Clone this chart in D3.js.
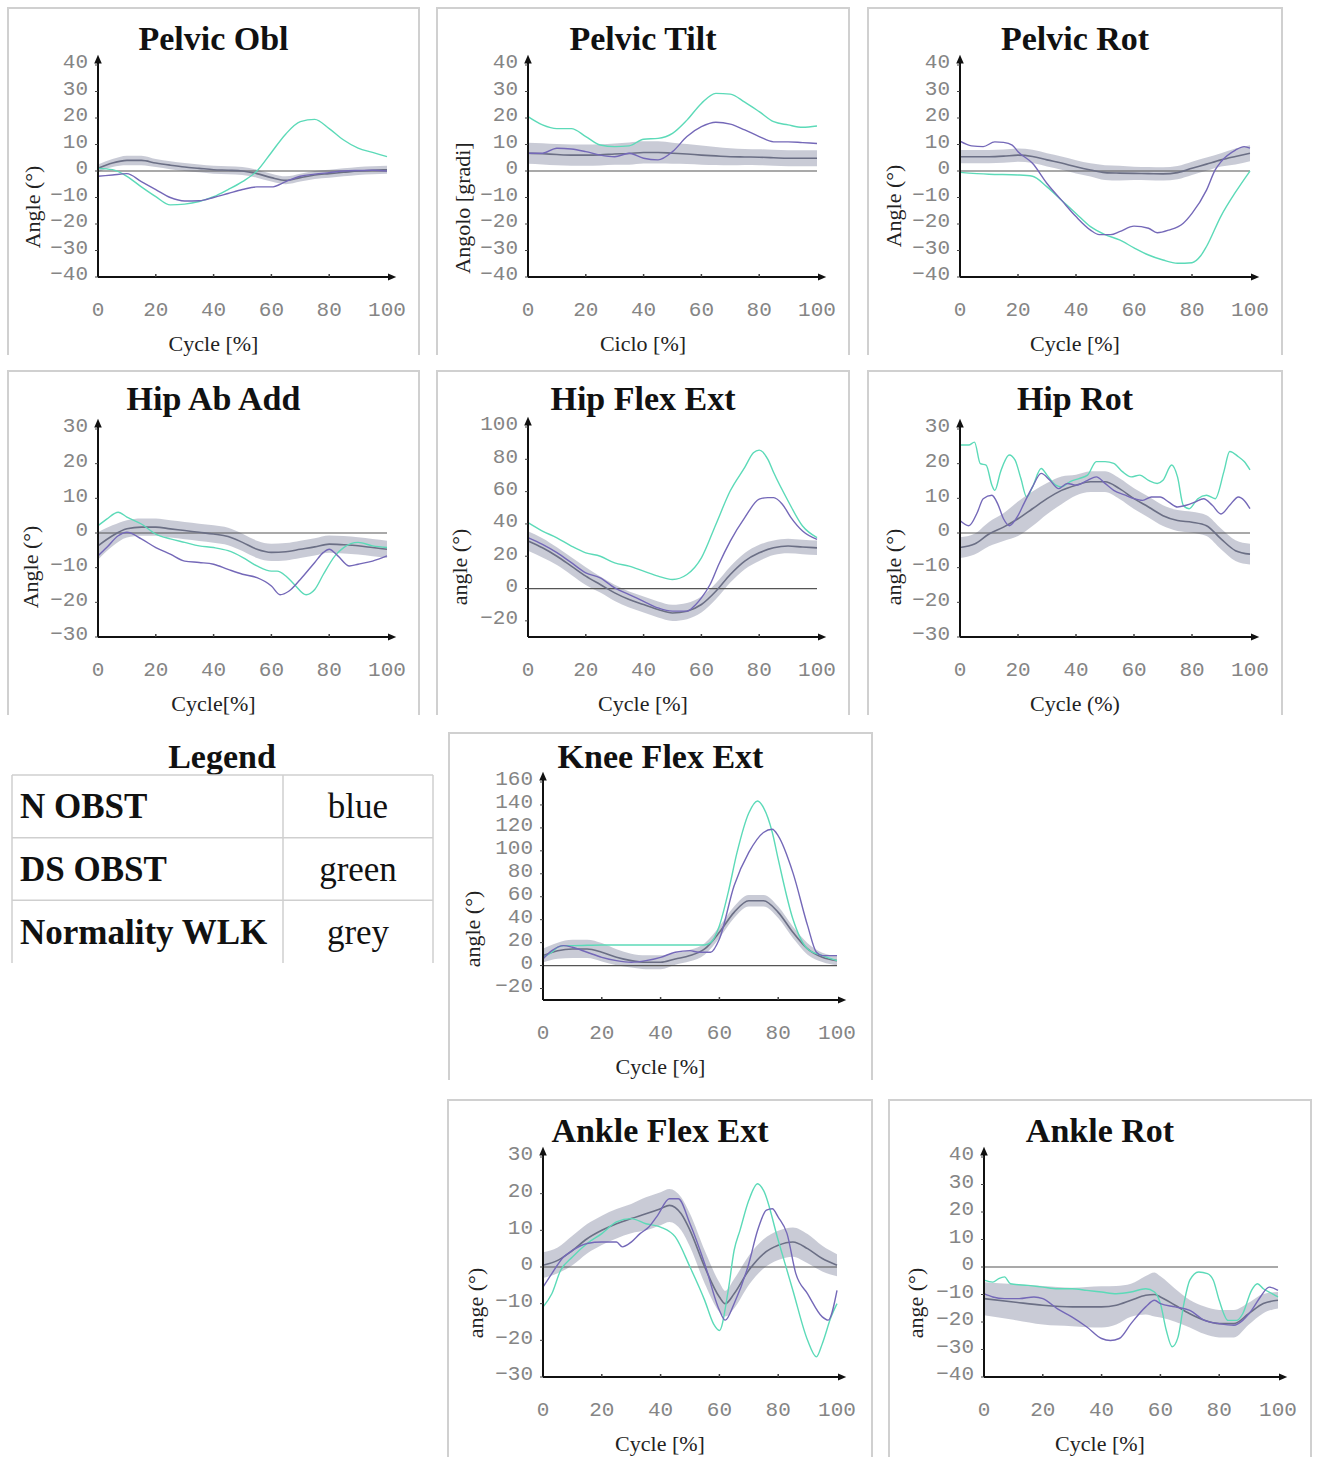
<!DOCTYPE html>
<html>
<head>
<meta charset="utf-8">
<script src="https://cdn.jsdelivr.net/npm/d3@7"></script>
<style>
  body { margin: 0; background: #fff; }
</style>
</head>
<body>
<div id="chart"></div>
<script>
// ---- data ----
// blue = N OBST, green = DS OBST, grey = normality band [pct, mean, half width]
const cycleTicks = [0, 20, 40, 60, 80, 100];
const ticks40 = [-40, -30, -20, -10, 0, 10, 20, 30, 40];
const ticks30 = [-30, -20, -10, 0, 10, 20, 30];
const ticksHipFlex = [-20, 0, 20, 40, 60, 80, 100];
const ticksKnee = [-20, 0, 20, 40, 60, 80, 100, 120, 140, 160];

const pelvicOblGreen = [[0,1],[5,0.5],[10,-2],[15,-6],[20,-9.7],[25,-12.8],[30,-12.5],[35,-11.5],[40,-9.7],[45,-7],[50,-4],[55,0],[60,7],[65,14],[70,18.6],[75,19.5],[80,16],[85,11.7],[90,8.6],[95,7],[100,5.4]];
const pelvicOblBlue = [[0,-2],[5,-1.5],[10,-1],[15,-4],[20,-7],[25,-10],[30,-11.3],[35,-11.2],[40,-10],[45,-8.5],[50,-7],[55,-6],[60,-6],[65,-4],[70,-2],[75,-1.2],[80,-0.6],[85,0],[90,0.2],[95,0.3],[100,0]];
const pelvicOblNorm = [[0,1,1.5],[5,3,1.5],[10,4,1.8],[15,4,1.8],[20,3,1.5],[25,2.2,1.5],[30,1.5,1.5],[35,1,1.5],[40,0.5,1.5],[45,0.3,1.5],[50,0,1.5],[55,-1,1.5],[60,-2.5,1.5],[65,-3.5,1.5],[70,-2.5,1.5],[75,-1.5,1.5],[80,-1,1.5],[85,-0.5,1.5],[90,0,1.5],[95,0.3,1.5],[100,0.5,1.5]];

const pelvicTiltGreen = [[0,20.5],[5,17.4],[10,16],[15,16],[20,13],[25,9.8],[30,9.2],[35,9.5],[40,12],[45,12.3],[50,14.2],[55,19.2],[60,25.5],[65,29.3],[70,29],[75,26],[80,22.4],[85,18.6],[90,17.4],[95,16.5],[100,17]];
const pelvicTiltBlue = [[0,6.7],[5,6.7],[10,8.6],[15,8.3],[20,7.3],[25,6],[30,5.4],[35,6.7],[40,4.8],[45,4.2],[50,7.3],[55,13],[60,16.7],[65,18.4],[70,17.7],[75,15.5],[80,13],[85,11],[90,11],[95,10.7],[100,10.4]];
const pelvicTiltNorm = [[0,6.7,4],[5,6.5,4],[10,6.2,4],[15,6,4],[20,6,4],[25,6.1,4],[30,6.4,4],[35,6.6,4.2],[40,7,4.2],[45,7,4.2],[50,6.7,4],[55,6.4,3.8],[60,6,3.6],[65,5.7,3.4],[70,5.4,3.2],[75,5.3,3],[80,5.2,3],[85,5,3],[90,4.8,3],[95,4.8,3],[100,4.8,3]];

const pelvicRotGreen = [[0,-0.5],[10,-1.2],[20,-1.5],[25,-2],[30,-6],[35,-11],[40,-16],[45,-21],[50,-24],[55,-26],[60,-29],[65,-31.7],[70,-33.6],[75,-34.8],[80,-34.6],[83,-32],[85,-28.5],[90,-17],[95,-8],[100,0]];
const pelvicRotBlue = [[0,11.3],[4,9.5],[8,9.2],[12,11],[15,10.8],[18,9.8],[20,7.3],[25,2.9],[30,-4.7],[35,-11],[40,-17.2],[45,-22.3],[48,-24],[52,-24],[55,-22.9],[60,-20.8],[65,-21.6],[68,-23.3],[72,-22.3],[77,-19.7],[80,-16],[85,-7.2],[88,0.4],[90,3.5],[95,7.9],[98,9.2],[100,8.6]];
const pelvicRotNorm = [[0,5.4,2.5],[5,5.4,2.5],[10,5.4,2.5],[15,5.6,2.5],[20,6,2.5],[25,5.5,2.5],[30,4.2,2.5],[35,3,2.5],[40,1.6,2.5],[45,0.4,2.5],[50,-0.6,2.8],[55,-0.8,2.8],[60,-0.9,2.5],[65,-1,2.5],[70,-1.1,2.5],[75,-0.6,2.5],[80,1,2.5],[85,2.6,2.5],[90,4.2,2.5],[95,5.5,3],[100,6.7,3]];

const hipAbAddGreen = [[0,2.1],[3,4],[7,6],[10,4.6],[15,2.6],[20,-0.3],[25,-1.7],[30,-2.7],[35,-3.7],[40,-4.2],[45,-5.1],[50,-7],[55,-9.5],[60,-11],[62,-11],[65,-12.4],[68,-14.9],[72,-17.8],[75,-16.3],[78,-11.9],[82,-6.6],[85,-4.2],[90,-2.7],[95,-3.7],[100,-4.2]];
const hipAbAddBlue = [[0,-6.6],[3,-4.2],[7,-0.8],[10,0.2],[15,-1.7],[20,-4.2],[25,-6.1],[30,-8.1],[35,-8.5],[40,-9],[45,-10.5],[50,-11.9],[55,-12.9],[60,-15.3],[63,-17.8],[66,-16.8],[70,-13.4],[75,-8.5],[78,-5.6],[80,-4.7],[83,-6.6],[87,-9.5],[90,-9],[95,-8.1],[100,-6.6]];
const hipAbAddNorm = [[0,-3.7,4],[5,-0.8,3],[10,1.2,2.5],[15,1.7,2.5],[20,1.7,2.5],[25,1.2,2.5],[30,0.7,2.5],[35,0.2,2.5],[40,-0.3,2.5],[45,-1,2.5],[50,-2.7,2.5],[55,-4.7,2.5],[60,-5.6,2.5],[65,-5.4,2.5],[70,-4.7,2.5],[75,-4,2.5],[80,-3.2,2.5],[85,-3.4,2.5],[90,-3.7,2.5],[95,-4.2,2.5],[100,-4.7,2.5]];

const hipFlexGreen = [[0,40.8],[5,35.6],[10,31.4],[15,26.3],[20,22.1],[25,20],[30,15.9],[35,13.9],[40,10.8],[45,7.7],[50,5.6],[55,8.7],[60,19],[65,39.7],[70,60.5],[75,75],[78,84],[80,85.7],[83,80],[85,71.8],[90,54.2],[95,38.7],[100,31.5]];
const hipFlexBlue = [[0,31.5],[5,27.3],[10,22.2],[15,16],[20,9.7],[25,6.6],[30,0.4],[35,-3.7],[40,-7.9],[45,-12],[50,-14],[55,-14],[58,-10],[60,-5.8],[63,2.5],[66,14.9],[70,29.4],[75,43.9],[80,55.3],[83,56.3],[85,56.3],[88,52.2],[91,43.9],[95,35.6],[100,30.4]];
const hipFlexNorm = [[0,29.4,6],[5,25.2,6],[10,20,5.5],[15,13.9,5.5],[20,7.7,5.5],[25,2.5,5],[30,-2.7,5],[35,-6.8,5],[40,-9.9,5],[45,-13,5],[50,-15.1,5],[55,-14,5],[60,-9.9,5],[65,-1.7,5],[70,8.7,5],[75,17,5],[80,22.1,5],[85,25.2,4.5],[90,26.3,4.5],[95,25.7,4.5],[100,25.2,4.5]];

const hipRotGreen = [[0,25.4],[3,25.4],[5,26.2],[7,20],[9,19.6],[11,13.8],[12,12.3],[14,17.7],[17,22.5],[19,21],[21,15.7],[23,10.4],[25,13.3],[28,18.6],[30,16.7],[33,13.8],[35,13.3],[38,14.8],[41,15.7],[44,16.7],[47,20.6],[50,20.6],[53,20.1],[56,17.7],[59,16.2],[62,16.7],[65,15.2],[68,14.3],[70,15.2],[73,19.6],[75,16.2],[77,8],[79,7],[82,9.9],[85,10.9],[88,9.9],[91,17.7],[93,23.5],[96,22],[98,20.6],[100,18.2]];
const hipRotBlue = [[0,3.6],[3,2.1],[6,6],[8,9.9],[11,10.9],[13,8.4],[15,4.1],[17,2.1],[20,5],[22,8.4],[25,13.3],[28,17.2],[31,15.2],[34,12.8],[37,14.3],[40,13.8],[44,15.2],[47,16.2],[50,14.3],[53,12.3],[57,10.9],[60,9.9],[63,9.4],[66,10.4],[69,10.4],[72,8.9],[75,7.5],[78,8],[81,8.9],[84,9.9],[87,8],[90,5.5],[93,8],[96,10.4],[98,9.4],[100,7]];
const hipRotNorm = [[0,-4.2,3],[5,-3.2,3],[10,-0.3,3.5],[15,1.7,4],[20,4.1,5],[25,7,5],[30,9.9,4.5],[35,12.3,4],[40,13.8,3],[45,14.8,3],[50,14.8,3],[55,12.8,3],[60,9.9,3],[65,7.5,3],[70,5,3],[75,3.6,3],[80,3.1,3],[85,2.1,3],[90,-1.7,3],[95,-5.1,3],[100,-6.1,3]];

const kneeGreen = [[0,7.2],[3,11.6],[5,16],[7,17.4],[10,17.4],[20,18],[30,18],[40,18],[50,18],[55,18],[57,20],[60,34.8],[63,63.8],[66,98.6],[70,133],[73,143.5],[75,137.7],[78,116],[80,92.8],[85,40.6],[90,14.5],[95,8.7],[100,4.3]];
const kneeBlue = [[0,5.8],[3,13],[7,17.4],[10,16],[15,11.6],[20,7.2],[25,4.3],[30,2.9],[35,4.3],[40,7.2],[45,11.6],[50,13],[53,11.6],[57,11.6],[60,23.2],[65,69.6],[70,98.6],[75,116],[78,118.8],[80,113],[85,81],[90,34.8],[93,11.6],[95,8.7],[100,8.7]];
const kneeNorm = [[0,8.7,6],[5,13,7],[10,14.5,8],[15,14.5,8],[20,11.6,8],[25,7.2,7],[30,4.3,6],[35,2.9,6],[40,2.9,6],[45,5.8,5],[50,8.7,5],[55,14.5,5],[60,29,5],[65,46.4,5],[70,56.5,5],[75,56.5,5],[80,46.4,5],[85,29,5],[90,14.5,5],[95,7.2,4],[100,4.3,4]];

const ankleFlexGreen = [[0,-10.9],[3,-7.3],[6,-0.9],[10,2.7],[15,6.4],[20,9.1],[25,12.3],[30,13.2],[35,11.8],[40,10.9],[45,8.2],[50,0],[55,-9.1],[58,-15.5],[60,-17.3],[63,-6.4],[65,4.5],[67,10],[70,18.2],[73,22.7],[75,20.9],[80,7.3],[85,-6.4],[90,-20],[93,-24.5],[95,-20.9],[98,-13.6],[100,-10]];
const ankleFlexBlue = [[0,-5.5],[3,-1.8],[7,2.7],[10,4.5],[15,6.4],[20,6.8],[25,6.8],[27,5.5],[30,6.8],[33,9.1],[36,10.9],[39,14.1],[43,18.6],[46,18.6],[50,11.8],[55,0.9],[60,-11.8],[62,-14.5],[65,-10],[70,0.9],[73,10],[76,15.5],[78,15.9],[80,13.6],[83,9.1],[86,-1.8],[90,-7.3],[95,-13.6],[97,-14.5],[100,-6.4]];
const ankleFlexNorm = [[0,0.5,3.5],[5,1.8,3.5],[10,4.5,4],[15,7.7,4],[20,10,4],[25,11.8,4],[30,13.2,4],[35,14.5,4.5],[40,15.9,4.5],[43,16.8,4.5],[47,14.5,4.5],[50,10,4.5],[55,0,4.5],[60,-8.2,4],[62,-10,3.5],[65,-7.3,4],[70,-0.9,4],[75,3.6,4],[80,5.9,4],[85,6.8,4],[90,5,4],[95,2.3,3.5],[100,0.5,3]];

const ankleRotGreen = [[0,-4.8],[3,-5.5],[5,-4.2],[7,-3.6],[9,-6.1],[15,-6.7],[20,-7.3],[25,-7.9],[30,-7.9],[35,-8.5],[40,-9.1],[45,-9.7],[50,-9.1],[55,-7.9],[58,-9.1],[60,-13.3],[62,-23],[64,-29],[66,-25.5],[68,-13.3],[70,-4.8],[73,-1.8],[76,-2.4],[78,-4.8],[80,-12.1],[83,-19.4],[86,-19.4],[88,-17],[91,-8.5],[93,-6.1],[95,-7.9],[98,-9.7],[100,-10.9]];
const ankleRotBlue = [[0,-9.7],[3,-10.9],[7,-11.5],[12,-11.5],[17,-10.9],[20,-11.5],[25,-15.2],[30,-18.2],[35,-21.8],[40,-26],[43,-26.7],[46,-26],[50,-20.6],[55,-14.5],[58,-12.1],[60,-13.3],[65,-14.5],[70,-15.8],[75,-19.4],[80,-20.6],[85,-21.2],[88,-19.4],[91,-15.8],[94,-10.9],[97,-7.3],[100,-8.5]];
const ankleRotNorm = [[0,-11.5,6],[10,-12.7,6.5],[20,-13.9,7],[30,-14.5,7],[40,-14.5,7.5],[45,-13.9,7],[50,-12.1,6],[55,-10.3,7],[58,-10,8],[60,-10.9,7.5],[65,-13.9,6],[70,-17,5],[75,-19.4,5],[80,-20.6,5],[85,-20.6,5],[90,-17,4],[95,-13.3,3.5],[100,-12.1,3]];

const legendRows = ["N OBST", "DS OBST", "Normality WLK"];
const legendColours = ["blue", "green", "grey"];

// ---- layout ----
const W = 1318, H = 1457;
const svg = d3.select("#chart").append("svg").attr("width", W).attr("height", H);

const defs = svg.append("defs");
defs.append("marker").attr("id", "arrow")
  .attr("viewBox", "0 0 8 8").attr("refX", 2).attr("refY", 4)
  .attr("markerWidth", 5).attr("markerHeight", 5).attr("orient", "auto")
  .append("path").attr("d", "M0,1 L7,4 L0,7 z").attr("fill", "#111");

const panels = [
  { title: "Pelvic Obl", frame: [8, 419, 8, 355], px: [98, 387], py: [277, 65], dom: [-40, 40], ticks: ticks40,
    ylab: "Angle (°)", yl: [32, 207], xlab: "Cycle [%]", titleY: 50,
    green: pelvicOblGreen, blue: pelvicOblBlue, norm: pelvicOblNorm },
  { title: "Pelvic Tilt", frame: [437, 849, 8, 355], px: [528, 817], py: [277, 65], dom: [-40, 40], ticks: ticks40,
    ylab: "Angolo [gradi]", yl: [462, 208], xlab: "Ciclo [%]", titleY: 50,
    green: pelvicTiltGreen, blue: pelvicTiltBlue, norm: pelvicTiltNorm },
  { title: "Pelvic Rot", frame: [868, 1282, 8, 355], px: [960, 1250], py: [277, 65], dom: [-40, 40], ticks: ticks40,
    ylab: "Angle (°)", yl: [893, 206], xlab: "Cycle [%]", titleY: 50,
    green: pelvicRotGreen, blue: pelvicRotBlue, norm: pelvicRotNorm },
  { title: "Hip Ab Add", frame: [8, 419, 371, 715], px: [98, 387], py: [637, 429], dom: [-30, 30], ticks: ticks30,
    ylab: "Angle (°)", yl: [30, 567], xlab: "Cycle[%]", titleY: 410,
    green: hipAbAddGreen, blue: hipAbAddBlue, norm: hipAbAddNorm },
  { title: "Hip Flex Ext", frame: [437, 849, 371, 715], px: [528, 817], py: [637, 427], dom: [-30, 100], ticks: ticksHipFlex,
    ylab: "angle (°)", yl: [459, 567], xlab: "Cycle [%]", titleY: 410,
    green: hipFlexGreen, blue: hipFlexBlue, norm: hipFlexNorm },
  { title: "Hip Rot", frame: [868, 1282, 371, 715], px: [960, 1250], py: [637, 429], dom: [-30, 30], ticks: ticks30,
    ylab: "angle (°)", yl: [893, 567], xlab: "Cycle (%)", titleY: 410,
    green: hipRotGreen, blue: hipRotBlue, norm: hipRotNorm },
  { title: "Knee Flex Ext", frame: [449, 872, 733, 1080], px: [543, 837], py: [1000, 782], dom: [-30, 160], ticks: ticksKnee,
    ylab: "angle (°)", yl: [472, 929], xlab: "Cycle [%]", titleY: 768,
    green: kneeGreen, blue: kneeBlue, norm: kneeNorm },
  { title: "Ankle Flex Ext", frame: [448, 872, 1100, 1457], px: [543, 837], py: [1377, 1157], dom: [-30, 30], ticks: ticks30,
    ylab: "ange (°)", yl: [475, 1303], xlab: "Cycle [%]", titleY: 1142,
    green: ankleFlexGreen, blue: ankleFlexBlue, norm: ankleFlexNorm },
  { title: "Ankle Rot", frame: [889, 1311, 1100, 1457], px: [984, 1278], py: [1377, 1157], dom: [-40, 40], ticks: ticks40,
    ylab: "ange (°)", yl: [915, 1303], xlab: "Cycle [%]", titleY: 1142,
    green: ankleRotGreen, blue: ankleRotBlue, norm: ankleRotNorm }
];

const serif = "'Liberation Serif', 'Times New Roman', serif";
const mono = "'Liberation Mono', 'Courier New', monospace";

panels.forEach(p => {
  const g = svg.append("g");
  const [fl, fr, ft, fb] = p.frame;

  // frame: open at the bottom
  g.append("path")
    .attr("d", `M${fl},${fb} L${fl},${ft} L${fr},${ft} L${fr},${fb}`)
    .attr("fill", "none").attr("stroke", "#d0d0d0").attr("stroke-width", 2);

  g.append("text").attr("x", (fl + fr) / 2).attr("y", p.titleY)
    .attr("text-anchor", "middle").attr("font-family", serif)
    .attr("font-weight", "bold").attr("font-size", 34).attr("fill", "#111")
    .text(p.title);

  const x = d3.scaleLinear().domain([0, 100]).range(p.px);
  const y = d3.scaleLinear().domain(p.dom).range(p.py);
  const x0 = p.px[0], y0 = p.py[0];

  // normality band + mean
  const area = d3.area().curve(d3.curveMonotoneX)
    .x(d => x(d[0])).y0(d => y(d[1] - d[2])).y1(d => y(d[1] + d[2]));
  g.append("path").datum(p.norm).attr("d", area)
    .attr("fill", "#c3c5d1").attr("opacity", 0.9);

  // zero line
  g.append("line").attr("x1", x(0)).attr("x2", x(100)).attr("y1", y(0)).attr("y2", y(0))
    .attr("stroke", "#555").attr("stroke-width", 1.2);

  const line = d3.line().curve(d3.curveMonotoneX).x(d => x(d[0])).y(d => y(d[1]));
  g.append("path").datum(p.norm).attr("d", line)
    .attr("fill", "none").attr("stroke", "#6b6f85").attr("stroke-width", 1.6);
  g.append("path").datum(p.green).attr("d", line)
    .attr("fill", "none").attr("stroke", "#5cdab8").attr("stroke-width", 1.4);
  g.append("path").datum(p.blue).attr("d", line)
    .attr("fill", "none").attr("stroke", "#7468b8").attr("stroke-width", 1.4);

  // axes
  const yTop = y(p.dom[1]) - 4;
  g.append("line").attr("x1", x0).attr("x2", x0).attr("y1", y0).attr("y2", yTop)
    .attr("stroke", "#111").attr("stroke-width", 2).attr("marker-end", "url(#arrow)");
  g.append("line").attr("x1", x0).attr("x2", x(100) + 3).attr("y1", y0).attr("y2", y0)
    .attr("stroke", "#111").attr("stroke-width", 2).attr("marker-end", "url(#arrow)");

  // y ticks + labels
  g.selectAll(".yt").data(p.ticks).enter().append("line")
    .attr("x1", x0 - 3).attr("x2", x0).attr("y1", d => y(d)).attr("y2", d => y(d))
    .attr("stroke", "#444").attr("stroke-width", 1);
  g.selectAll(".yl").data(p.ticks).enter().append("text")
    .attr("x", x0 - 10).attr("y", d => y(d) - 4)
    .attr("dy", "0.35em").attr("text-anchor", "end")
    .attr("font-family", mono).attr("font-size", 21).attr("fill", "#858585")
    .text(d => d3.format("d")(d));

  // x ticks + labels
  g.selectAll(".xt").data(cycleTicks.slice(1, -1)).enter().append("line")
    .attr("x1", d => x(d)).attr("x2", d => x(d)).attr("y1", y0).attr("y2", y0 - 3)
    .attr("stroke", "#444").attr("stroke-width", 1.5);
  g.selectAll(".xl").data(cycleTicks).enter().append("text")
    .attr("x", d => x(d)).attr("y", y0 + 39).attr("text-anchor", "middle")
    .attr("font-family", mono).attr("font-size", 21).attr("fill", "#858585")
    .text(d => d);

  // axis titles
  g.append("text").attr("x", (fl + fr) / 2).attr("y", y0 + 74)
    .attr("text-anchor", "middle").attr("font-family", serif)
    .attr("font-size", 22).attr("fill", "#222").text(p.xlab);
  g.append("text")
    .attr("transform", `translate(${p.yl[0]},${p.yl[1]}) rotate(-90)`)
    .attr("dy", "0.35em").attr("text-anchor", "middle").attr("font-family", serif)
    .attr("font-size", 22).attr("fill", "#222").text(p.ylab);
});

// ---- legend table ----
const lg = svg.append("g");
lg.append("text").attr("x", 222).attr("y", 768).attr("text-anchor", "middle")
  .attr("font-family", serif).attr("font-weight", "bold").attr("font-size", 34)
  .attr("fill", "#111").text("Legend");

const rowY = d3.scaleBand().domain(legendRows).range([775, 963]);
lg.selectAll(".hl").data(legendRows).enter().append("line")
  .attr("x1", 12).attr("x2", 433).attr("y1", d => rowY(d)).attr("y2", d => rowY(d))
  .attr("stroke", "#cfcfcf").attr("stroke-width", 1.5);
[12, 283, 433].forEach(vx => {
  lg.append("line").attr("x1", vx).attr("x2", vx).attr("y1", 775).attr("y2", 963)
    .attr("stroke", "#cfcfcf").attr("stroke-width", 1.5);
});
lg.selectAll(".ln").data(legendRows).enter().append("text")
  .attr("x", 20).attr("y", d => rowY(d) + rowY.bandwidth() / 2 + 12)
  .attr("font-family", serif).attr("font-weight", "bold").attr("font-size", 35)
  .attr("fill", "#111").text(d => d);
lg.selectAll(".lc").data(legendColours).enter().append("text")
  .attr("x", 358).attr("y", (d, i) => rowY(legendRows[i]) + rowY.bandwidth() / 2 + 12)
  .attr("text-anchor", "middle")
  .attr("font-family", serif).attr("font-size", 35)
  .attr("fill", "#111").text(d => d);
</script>
</body>
</html>
